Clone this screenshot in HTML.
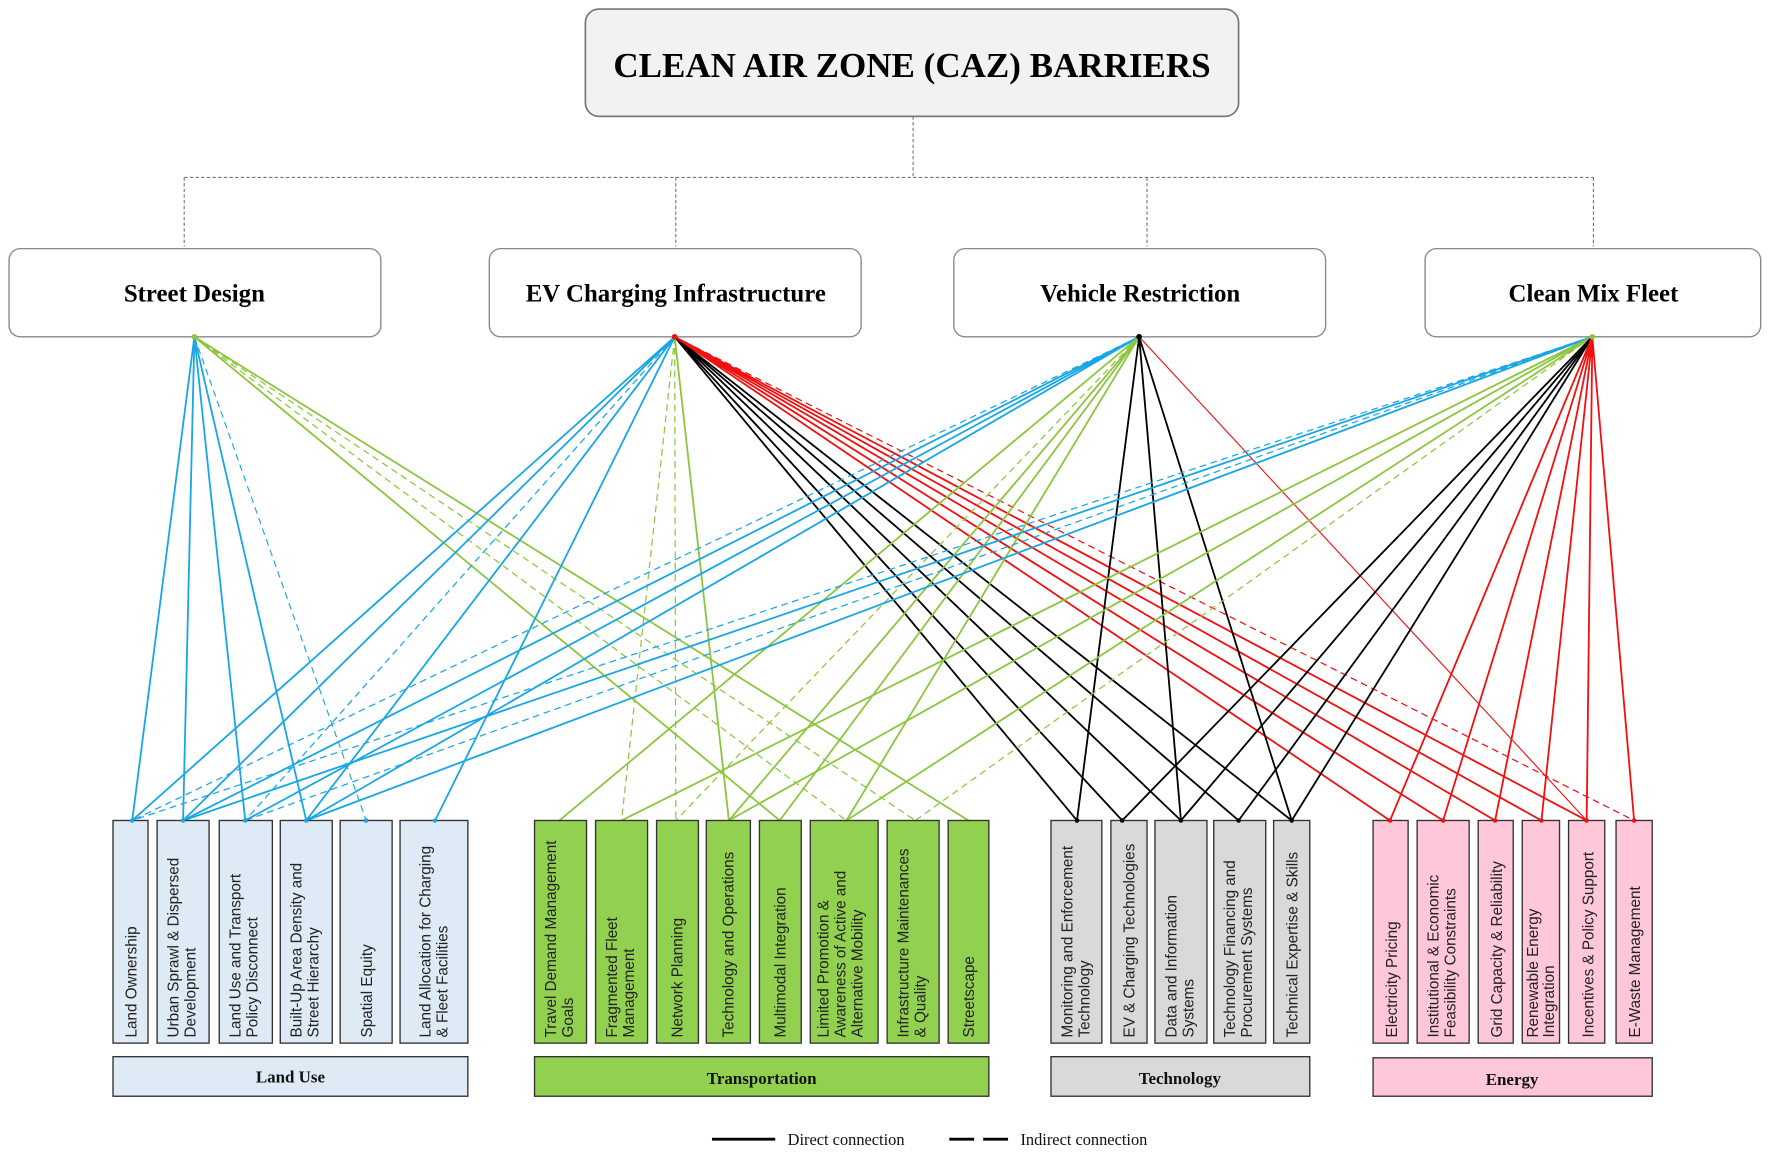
<!DOCTYPE html>
<html><head><meta charset="utf-8"><style>
html,body{margin:0;padding:0;background:#fff;}
svg{display:block;}
.v{font-family:"Liberation Sans",sans-serif;font-size:13.5px;fill:#222;}
.c{font-family:"Liberation Serif",serif;font-weight:bold;font-size:15px;fill:#111;}
</style></head><body>
<svg width="1772" height="1155" viewBox="0 0 1568 1022" preserveAspectRatio="none" xmlns="http://www.w3.org/2000/svg">
<rect x="518" y="8" width="578" height="95" rx="12" fill="#f3f2f2" stroke="#777" stroke-width="1.5"/>
<text x="807" y="68" text-anchor="middle" font-family="Liberation Serif,serif" font-weight="bold" font-size="31">CLEAN AIR ZONE (CAZ) BARRIERS</text>
<g stroke="#777" stroke-width="1" stroke-dasharray="3 2" fill="none">
<path d="M808 103V157M163 157H1410M163 157V218M598 157V218M1015 157V218M1410 157V218"/>
</g>
<g fill="#fff" stroke="#888" stroke-width="1.2">
<rect x="8" y="220" width="329" height="78" rx="10"/>
<rect x="433" y="220" width="329" height="78" rx="10"/>
<rect x="844" y="220" width="329" height="78" rx="10"/>
<rect x="1261" y="220" width="297" height="78" rx="10"/>
</g>
<g font-family="Liberation Serif,serif" font-weight="bold" font-size="22" text-anchor="middle">
<text x="172" y="267">Street Design</text>
<text x="598" y="267">EV Charging Infrastructure</text>
<text x="1009" y="267">Vehicle Restriction</text>
<text x="1410" y="267">Clean Mix Fleet</text>
</g>
<g fill="none" stroke-width="1.6">
<!-- Street Design -->
<g stroke="#19a6e6">
<path d="M172 298L117 726M172 298L162 726M172 298L217 726M172 298L271 726"/>
<path d="M172 298L324 726" stroke-dasharray="6 4" stroke-width="1"/>
</g>
<g stroke="#8cc63f">
<path d="M172 298L690 726M172 298L857 726"/>
<path d="M172 298L749 726M172 298L810 726" stroke-dasharray="6 4" stroke-width="1.1"/>
</g>
<!-- EV -->
<g stroke="#19a6e6">
<path d="M597 298L117 726M597 298L162 726M597 298L271 726M597 298L385 726"/>
<path d="M597 298L217 726" stroke-dasharray="6 4" stroke-width="1.1"/>
</g>
<g stroke="#8cc63f">
<path d="M597 298L645 726"/>
<path d="M597 298L550 726M597 298L598 726" stroke-dasharray="6 4" stroke-width="1.1"/>
</g>
<g stroke="#000">
<path d="M597 298L953 726M597 298L993 726M597 298L1045 726M597 298L1096 726M597 298L1143 726"/>
</g>
<g stroke="#f01010">
<path d="M597 298L1230 726M597 298L1277 726M597 298L1323 726M597 298L1364 726M597 298L1404 726"/>
<path d="M597 298L1446 726" stroke-dasharray="6 4" stroke-width="1.1"/>
</g>
<!-- VR -->
<g stroke="#19a6e6">
<path d="M1008 298L162 726M1008 298L217 726M1008 298L271 726"/>
<path d="M1008 298L117 726M1008 298L162 726" stroke-dasharray="6 4" stroke-width="1.1"/>
</g>
<g stroke="#8cc63f">
<path d="M1008 298L495 726M1008 298L645 726M1008 298L690 726M1008 298L749 726"/>
<path d="M1008 298L598 726" stroke-dasharray="6 4" stroke-width="1.1"/>
</g>
<g stroke="#000"><path d="M1008 298L953 726M1008 298L1045 726M1008 298L1143 726"/></g>
<path d="M1008 298L1404 726" stroke="#f01010" stroke-width="1"/>
<!-- CMF -->
<g stroke="#19a6e6">
<path d="M1409 298L162 726M1409 298L271 726"/>
<path d="M1409 298L117 726M1409 298L217 726" stroke-dasharray="6 4" stroke-width="1.1"/>
</g>
<g stroke="#8cc63f">
<path d="M1409 298L550 726M1409 298L645 726M1409 298L749 726"/>
<path d="M1409 298L810 726" stroke-dasharray="6 4" stroke-width="1.1"/>
</g>
<g stroke="#000"><path d="M1409 298L993 726M1409 298L1045 726M1409 298L1096 726M1409 298L1143 726"/></g>
<g stroke="#f01010"><path d="M1409 298L1230 726M1409 298L1277 726M1409 298L1323 726M1409 298L1364 726M1409 298L1404 726M1409 298L1446 726"/></g>
</g>
<circle cx="172" cy="298" r="2.5" fill="#8cc63f"/>
<circle cx="597" cy="298" r="2.5" fill="#f01010"/>
<circle cx="1008" cy="298" r="2.5" fill="#000"/>
<circle cx="1409" cy="298" r="2.5" fill="#8cc63f"/>
<!-- bottom boxes -->
<g stroke="#333" stroke-width="1.2">
<g fill="#deeaf6">
<rect x="100" y="726" width="31" height="197"/><rect x="139" y="726" width="46" height="197"/><rect x="194" y="726" width="47" height="197"/><rect x="248" y="726" width="46" height="197"/><rect x="301" y="726" width="46" height="197"/><rect x="354" y="726" width="60" height="197"/>
<rect x="100" y="935" width="314" height="35"/>
</g>
<g fill="#92d050">
<rect x="473" y="726" width="46" height="197"/><rect x="527" y="726" width="46" height="197"/><rect x="581" y="726" width="37" height="197"/><rect x="625" y="726" width="39" height="197"/><rect x="672" y="726" width="37" height="197"/><rect x="717" y="726" width="60" height="197"/><rect x="785" y="726" width="46" height="197"/><rect x="839" y="726" width="36" height="197"/>
<rect x="473" y="935" width="402" height="35"/>
</g>
<g fill="#d9d9d9">
<rect x="930" y="726" width="45" height="197"/><rect x="983" y="726" width="32" height="197"/><rect x="1022" y="726" width="46" height="197"/><rect x="1074" y="726" width="46" height="197"/><rect x="1127" y="726" width="32" height="197"/>
<rect x="930" y="935" width="229" height="35"/>
</g>
<g fill="#ffc7d9">
<rect x="1215" y="726" width="31" height="197"/><rect x="1254" y="726" width="46" height="197"/><rect x="1308" y="726" width="31" height="197"/><rect x="1347" y="726" width="33" height="197"/><rect x="1388" y="726" width="32" height="197"/><rect x="1430" y="726" width="32" height="197"/>
<rect x="1215" y="936" width="247" height="34"/>
</g>
</g>
<g fill="#19a6e6"><circle cx="117" cy="726" r="2"/><circle cx="162" cy="726" r="2"/><circle cx="217" cy="726" r="2"/><circle cx="271" cy="726" r="2"/><circle cx="324" cy="726" r="2"/><circle cx="385" cy="726" r="2"/></g>
<g fill="#000"><circle cx="953" cy="726" r="2"/><circle cx="993" cy="726" r="2"/><circle cx="1045" cy="726" r="2"/><circle cx="1096" cy="726" r="2"/><circle cx="1143" cy="726" r="2"/></g>
<g fill="#f01010"><circle cx="1230" cy="726" r="2"/><circle cx="1277" cy="726" r="2"/><circle cx="1323" cy="726" r="2"/><circle cx="1364" cy="726" r="2"/><circle cx="1404" cy="726" r="2"/><circle cx="1446" cy="726" r="2"/></g>
<g class="v">
<text transform="translate(121,918) rotate(-90)">Land Ownership</text>
<text transform="translate(158,918) rotate(-90)">Urban Sprawl &amp; Dispersed<tspan x="0" dy="15">Development</tspan></text>
<text transform="translate(213,918) rotate(-90)">Land Use and Transport<tspan x="0" dy="15">Policy Disconnect</tspan></text>
<text transform="translate(267,918) rotate(-90)">Built-Up Area Density and<tspan x="0" dy="15">Street Hierarchy</tspan></text>
<text transform="translate(329,918) rotate(-90)">Spatial Equity</text>
<text transform="translate(381,918) rotate(-90)">Land Allocation for Charging<tspan x="0" dy="15">&amp; Fleet Facilities</tspan></text>
<text transform="translate(492,918) rotate(-90)">Travel Demand Management<tspan x="0" dy="15">Goals</tspan></text>
<text transform="translate(546,918) rotate(-90)">Fragmented Fleet<tspan x="0" dy="15">Management</tspan></text>
<text transform="translate(604,918) rotate(-90)">Network Planning</text>
<text transform="translate(649,918) rotate(-90)">Technology and Operations</text>
<text transform="translate(695,918) rotate(-90)">Multimodal Integration</text>
<text transform="translate(733,918) rotate(-90)">Limited Promotion &amp;<tspan x="0" dy="15">Awareness of Active and</tspan><tspan x="0" dy="15">Alternative Mobility</tspan></text>
<text transform="translate(804,918) rotate(-90)">Infrastructure Maintenances<tspan x="0" dy="15">&amp; Quality</tspan></text>
<text transform="translate(862,918) rotate(-90)">Streetscape</text>
<text transform="translate(949,918) rotate(-90)">Monitoring and Enforcement<tspan x="0" dy="15">Technology</tspan></text>
<text transform="translate(1004,918) rotate(-90)">EV &amp; Charging Technologies</text>
<text transform="translate(1041,918) rotate(-90)">Data and Information<tspan x="0" dy="15">Systems</tspan></text>
<text transform="translate(1093,918) rotate(-90)">Technology Financing and<tspan x="0" dy="15">Procurement Systems</tspan></text>
<text transform="translate(1148,918) rotate(-90)">Technical Expertise &amp; Skills</text>
<text transform="translate(1236,918) rotate(-90)">Electricity Pricing</text>
<text transform="translate(1273,918) rotate(-90)">Institutional &amp; Economic<tspan x="0" dy="15">Feasibility Constraints</tspan></text>
<text transform="translate(1329,918) rotate(-90)">Grid Capacity &amp; Reliability</text>
<text transform="translate(1361,918) rotate(-90)">Renewable Energy<tspan x="0" dy="14">Integration</tspan></text>
<text transform="translate(1410,918) rotate(-90)">Incentives &amp; Policy Support</text>
<text transform="translate(1451,918) rotate(-90)">E-Waste Management</text>
</g>
<g class="c" text-anchor="middle">
<text x="257" y="958">Land Use</text>
<text x="674" y="959">Transportation</text>
<text x="1044" y="959">Technology</text>
<text x="1338" y="960">Energy</text>
</g>
<path d="M630 1008H686" stroke="#000" stroke-width="2.5"/>
<path d="M840 1008H862M870 1008H892" stroke="#000" stroke-width="2.5"/>
<g font-family="Liberation Serif,serif" font-size="14.5" fill="#111">
<text x="697" y="1013">Direct connection</text>
<text x="903" y="1013">Indirect connection</text>
</g>
</svg>
</body></html>
